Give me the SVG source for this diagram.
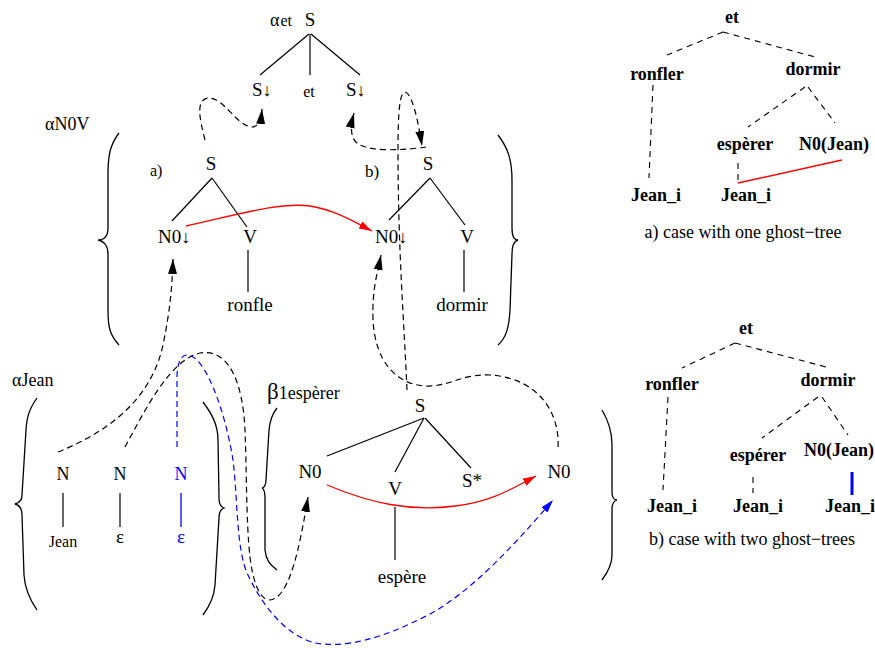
<svg xmlns="http://www.w3.org/2000/svg" width="875" height="648" viewBox="0 0 875 648">
<style>
text{font-family:"Liberation Serif","Times New Roman",serif;fill:#000}
.n{font-size:19px;text-anchor:middle}
.ns{font-size:19px}
.sm{font-size:16px}
.b{font-size:18px;font-weight:bold;text-anchor:middle}
.cap{font-size:18px;text-anchor:middle}
.e{stroke:#000;stroke-width:1.2;fill:none}
.br{stroke:#000;stroke-width:1.3;fill:none}
.d{stroke:#000;stroke-width:1.2;fill:none;stroke-dasharray:6,4}
.db{stroke:#0000ff;stroke-width:1.2;fill:none;stroke-dasharray:6,4}
.rd{stroke:#ff0000;stroke-width:1.3;fill:none}
.rdd{stroke:#000;stroke-width:1.1;fill:none;stroke-dasharray:6,5}
.blue{fill:#0000ff}
.arr{font-size:18px}
</style>
<defs>
<marker id="ak" markerUnits="userSpaceOnUse" markerWidth="16" markerHeight="10" refX="15" refY="4.5" orient="auto"><path d="M0,0 L15,4.5 L0,9 z" fill="#000"/></marker>
<marker id="ar" markerUnits="userSpaceOnUse" markerWidth="14" markerHeight="9" refX="13" refY="4" orient="auto"><path d="M0,0 L13,4 L0,8 z" fill="#ff0000"/></marker>
<marker id="ab" markerUnits="userSpaceOnUse" markerWidth="14" markerHeight="9" refX="13" refY="4" orient="auto"><path d="M0,0 L13,4 L0,8 z" fill="#0000ff"/></marker>
</defs>

<g id="alpha-et">
<text x="270" y="26"><tspan style="font-size:18px">α</tspan><tspan dx="1" style="font-size:16px">et</tspan></text>
<text class="n" x="310" y="26">S</text>
<line class="e" x1="309" y1="34" x2="260" y2="75"/>
<line class="e" x1="310" y1="34" x2="310" y2="75"/>
<line class="e" x1="311" y1="34" x2="360" y2="75"/>
<text class="ns" x="252" y="96">S<tspan class="arr">↓</tspan></text>
<text class="sm" x="309" y="97" text-anchor="middle">et</text>
<text class="ns" x="346" y="96">S<tspan class="arr">↓</tspan></text>
</g>

<g id="alpha-N0V">
<text style="font-size:18px" x="45" y="130">αN0V</text>
<path class="br" d="M119,133 C110,145 108,155 108,175 L108,228 C108,236 104,240 98,240 C104,241 108,246 108,254 L108,310 C108,328 110,335 119,345"/>
<path class="br" d="M498,135 C508,148 512,160 512,180 L512,228 C512,236 514,240 518,240 C514,241 512,246 512,254 L510,310 C509,328 506,338 498,345"/>
</g>

<g id="tree-a">
<text class="sm" x="150" y="176">a)</text>
<text class="n" x="211" y="170">S</text>
<line class="e" x1="212" y1="178" x2="172" y2="221"/>
<line class="e" x1="212" y1="178" x2="247" y2="227"/>
<text class="ns" x="158" y="243">N0<tspan class="arr">↓</tspan></text>
<text class="n" x="250" y="243">V</text>
<line class="e" x1="248" y1="250" x2="248" y2="292"/>
<text class="n" x="250" y="311">ronfle</text>
</g>

<g id="tree-b">
<text style="font-size:17px" x="365" y="177">b)</text>
<text class="n" x="428" y="170">S</text>
<line class="e" x1="430" y1="178" x2="389" y2="220"/>
<line class="e" x1="430" y1="178" x2="465" y2="225"/>
<text class="ns" x="375" y="243">N0<tspan class="arr">↓</tspan></text>
<text class="n" x="467" y="243">V</text>
<line class="e" x1="464" y1="250" x2="464" y2="292"/>
<text class="n" x="462" y="311">dormir</text>
</g>

<g id="alpha-Jean">
<text x="12" y="386" style="font-size:18px">αJean</text>
<path class="br" d="M37,398 C30,408 27,415 26,430 L22,495 C22,500 19,503 15,504 C19,505 22,509 22,515 L24,575 C25,590 30,600 37,610"/>
<path class="br" d="M203,402 C212,414 218,425 218,440 L219,498 C219,503 221,507 224,508 C221,509 219,513 219,518 L215,585 C214,598 209,607 203,615"/>
<text class="n" x="63" y="480" style="font-size:18px">N</text>
<line class="e" x1="63" y1="493" x2="63" y2="527"/>
<text class="n" x="63" y="547" style="font-size:16px">Jean</text>
<text class="n" x="120" y="480" style="font-size:18px">N</text>
<line class="e" x1="120" y1="493" x2="120" y2="527"/>
<text class="n" x="120" y="543" style="font-size:19px">ε</text>
<text class="n blue" x="181" y="480" style="font-size:18px">N</text>
<line x1="181" y1="493" x2="181" y2="527" stroke="#0000ff" stroke-width="1.3"/>
<text class="n blue" x="181" y="543" style="font-size:19px">ε</text>
</g>

<g id="beta1-esperer">
<text x="267" y="399"><tspan style="font-size:23px">β</tspan><tspan style="font-size:18px">1espèrer</tspan></text>
<path class="br" d="M277,408 C272,414 270,420 269,430 L266,480 C266,485 264,488 262,488 C264,489 265,493 265,498 L265,550 C266,560 270,565 277,570"/>
<path class="br" d="M602,410 C608,420 612,430 612,445 L612,492 C612,497 614,500 617,500 C614,501 612,504 612,509 L612,555 C612,565 608,572 602,580"/>
<text class="n" x="420" y="412">S</text>
<line class="e" x1="424" y1="418" x2="327" y2="456"/>
<line class="e" x1="424" y1="418" x2="395" y2="472"/>
<line class="e" x1="425" y1="418" x2="471" y2="468"/>
<text class="n" x="310" y="478">N0</text>
<text class="n" x="395" y="495">V</text>
<text class="ns" x="462" y="487">S*</text>
<text class="n" x="559" y="478">N0</text>
<line class="e" x1="395" y1="507" x2="395" y2="560"/>
<text class="n" x="402" y="583">espère</text>
</g>

<g id="derivation-a">
<text class="b" x="732" y="23">et</text>
<line class="rdd" x1="723" y1="32" x2="667" y2="55"/>
<line class="rdd" x1="723" y1="32" x2="815" y2="57"/>
<text class="b" x="657" y="80">ronfler</text>
<text class="b" x="813" y="75">dormir</text>
<line class="rdd" x1="653" y1="85" x2="649" y2="178"/>
<line class="rdd" x1="805" y1="87" x2="748" y2="127"/>
<line class="rdd" x1="808" y1="87" x2="835" y2="123"/>
<text class="b" x="745" y="150">espèrer</text>
<text class="b" x="834" y="150">N0(Jean)</text>
<line class="rdd" x1="738" y1="163" x2="738" y2="183"/>
<line x1="738" y1="183" x2="842" y2="160" stroke="#ff0000" stroke-width="1.5"/>
<text class="b" x="656" y="201">Jean_i</text>
<text class="b" x="746" y="201">Jean_i</text>
<text class="cap" x="743" y="238">a) case with one ghost−tree</text>
</g>

<g id="derivation-b">
<text class="b" x="746" y="334">et</text>
<line class="rdd" x1="735" y1="343" x2="682" y2="368"/>
<line class="rdd" x1="735" y1="343" x2="830" y2="368"/>
<text class="b" x="672" y="390">ronfler</text>
<text class="b" x="828" y="386">dormir</text>
<line class="rdd" x1="668" y1="397" x2="663" y2="490"/>
<line class="rdd" x1="818" y1="397" x2="762" y2="438"/>
<line class="rdd" x1="822" y1="397" x2="848" y2="435"/>
<text class="b" x="758" y="461">espérer</text>
<text class="b" x="804" y="456" style="text-anchor:start">N0(Jean)</text>
<line class="rdd" x1="753" y1="477" x2="753" y2="493"/>
<line x1="852" y1="472" x2="852" y2="495" stroke="#0000ff" stroke-width="3"/>
<text class="b" x="672" y="512">Jean_i</text>
<text class="b" x="758" y="512">Jean_i</text>
<text class="b" x="850" y="512">Jean_i</text>
<text class="cap" x="752" y="545">b) case with two ghost−trees</text>
</g>

<g id="connectors">
<path class="d" d="M205,140 C200,120 195,100 208,98 C225,98 235,125 252,127 C258,127 261,120 262,109" marker-end="url(#ak)"/>
<path class="d" d="M426,147 C405,150 375,152 360,145 C350,140 350,128 354,113" marker-end="url(#ak)"/>
<path class="d" d="M407,390 C404,320 398,250 398,150 C398,110 400,92 405,92 C412,93 418,120 422,146" marker-end="url(#ak)"/>
<path class="d" d="M558,447 C560,415 540,378 490,375 C460,374 450,387 425,386 C395,384 375,360 373,320 C372,290 377,275 381,255" marker-end="url(#ak)"/>
<path class="d" d="M58,452 C100,435 150,405 163,345 C170,310 172,290 173,259" marker-end="url(#ak)"/>
<path class="d" d="M125,447 C145,410 170,360 200,353 C230,348 243,385 245,430 C247,480 246,540 252,570 C256,590 262,600 270,600 C290,598 300,545 308,497" marker-end="url(#ak)"/>
<path class="db" d="M177,447 L177,375 C178,360 182,355 187,355 C205,355 225,410 233,460 C238,500 236,550 248,575 C262,605 285,635 315,643 C345,648 380,640 430,614 C470,592 510,550 553,500" marker-end="url(#ab)"/>
<path class="rd" d="M186,226 C240,214 280,202 310,206 C335,210 355,222 372,231" marker-end="url(#ar)"/>
<path class="rd" d="M327,485 C370,503 410,512 455,506 C490,502 510,490 536,476" marker-end="url(#ar)"/>
</g>
</svg>
